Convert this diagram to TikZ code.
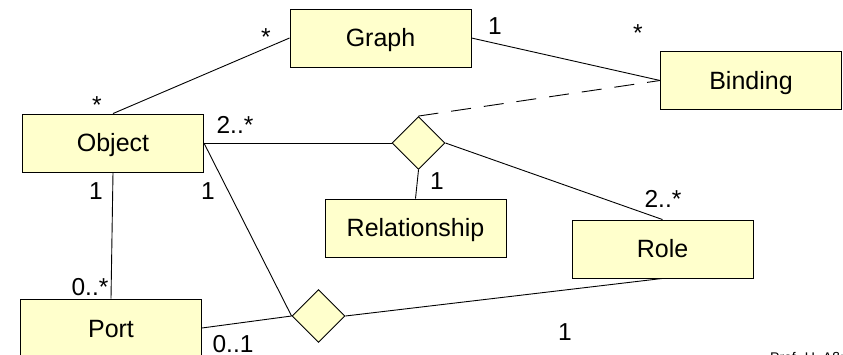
\documentclass[tikz,border=0pt]{standalone}
\usepackage{fontspec}
\setmainfont{Liberation Sans}
\usepackage{tikz}
\usetikzlibrary{shapes.geometric}
\definecolor{boxyellow}{RGB}{255,255,204}
\tikzset{cls/.style={draw,rectangle,fill=boxyellow,line width=0.9pt,
        minimum width=181pt,minimum height=58pt,inner sep=0pt,
        font=\fontsize{25}{30}\selectfont,text height=18pt,text depth=0pt},
    assoc/.style={draw,diamond,aspect=1,fill=boxyellow,line width=0.9pt,
        minimum size=53pt,inner sep=0pt},
    mult/.style={anchor=base,inner sep=0pt,text depth=0pt,font=\fontsize{24.5}{29}\selectfont},
    lnk/.style={line width=0.9pt}}

\begin{document}
\begin{tikzpicture}
		[x=1pt,y=-1pt]
		\useasboundingbox (0,0) rectangle (843,355);
		\node[cls] (graph) at (380.5,38){Graph};
		\node[cls] (binding) at (751,80.5){Binding};
		\node[cls] (object) at (113,143){Object};
		\node[cls] (relationship) at (415.5,228){Relationship};
		\node[cls] (role) at (662.5,249){Role};
		\node[cls] (port) at (111,328){Port};
		\node[assoc] (rel) at (418.5,143){};
		\node[assoc] (conn) at (318.5,316){};
		\draw[lnk] (graph.west) -- (object.north);
		\draw[lnk] (graph.east) -- (binding.west);
		\draw[lnk] (object.east) -- (rel.west);
		\draw[lnk] (rel.south) -- (relationship.north);
		\draw[lnk] (rel.east) -- (role.north);
		\draw[lnk,dash pattern=on 20pt off 13pt] (rel.north) -- (binding.west);
		\draw[lnk] (object.south) -- (port.north);
		\draw[lnk] (object.east) -- (conn.west);
		\draw[lnk] (port.east) -- (conn.west);
		\draw[lnk] (conn.east) -- (role.south);
		% multiplicities
		\node[mult] (m1) at (266,46){*};
		\node[mult] (m2) at (97,114){*};
		\node[mult] (m3) at (235,134){2..*};
		\node[mult] (m4) at (495,35){1};
		\node[mult] (m5) at (638,42){*};
		\node[mult] (m6) at (437,190){1};
		\node[mult] (m7) at (663,208){2..*};
		\node[mult] (m8) at (96,200){1};
		\node[mult] (m9) at (208,200){1};
		\node[mult] (m10) at (90,295){0..*};
		\node[mult] (m11) at (233,352){0..1};
		\node[mult] (m12) at (565,340){1};
		\node[anchor=base west,inner sep=0pt,font=\fontsize{14}{16}\selectfont] (prof) at (770,362){Prof. U. Aßmann};
\end{tikzpicture}
\end{document}
